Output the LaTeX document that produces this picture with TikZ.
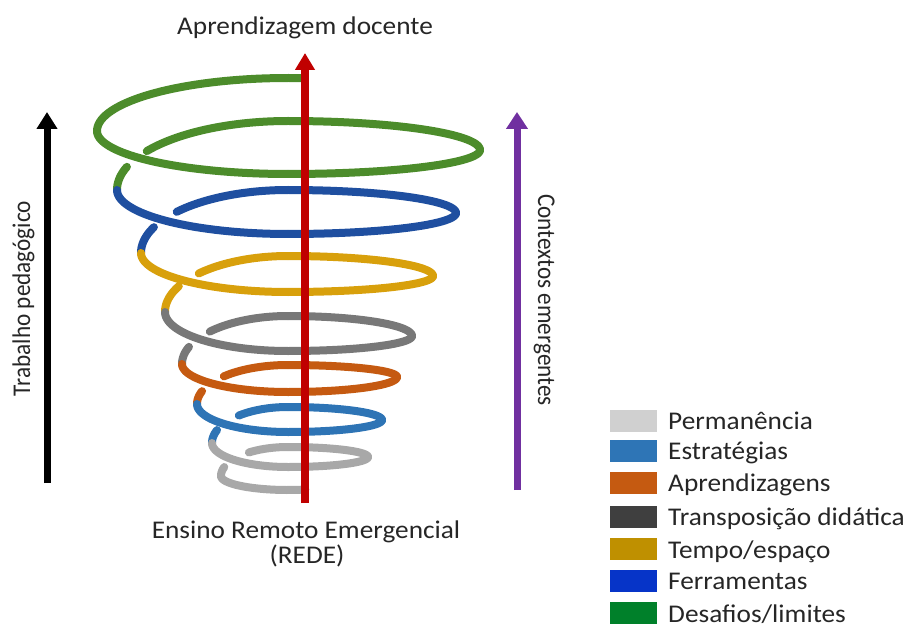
\documentclass[tikz,border=0pt]{standalone}
\usepackage{fontspec}
\setmainfont{Carlito}
\usetikzlibrary{arrows.meta}
\definecolor{c1}{HTML}{4C8C2B}
\definecolor{c2}{HTML}{1F4FA0}
\definecolor{c3}{HTML}{D8A00C}
\definecolor{c4}{HTML}{787878}
\definecolor{c5}{HTML}{C55A11}
\definecolor{c6}{HTML}{2E74B5}
\definecolor{c7}{HTML}{A8A8A8}
\definecolor{l1}{HTML}{D0D0D0}
\definecolor{l2}{HTML}{2E75B6}
\definecolor{l3}{HTML}{C55A11}
\definecolor{l4}{HTML}{3F3F3F}
\definecolor{l5}{HTML}{BF9000}
\definecolor{l6}{HTML}{0634C8}
\definecolor{l7}{HTML}{00802A}
\definecolor{cred}{HTML}{C00000}
\definecolor{cpur}{HTML}{7030A0}
% quarter arc between a horizontal-tangent point H and a vertical-tangent point V
\newcommand\qarc[7]{\draw[sp,#1] plot[domain=#6:#7] ({#2+(#4-#2)*sin(\x)},{#5+(#3-#5)*cos(\x)});}
% one turn: L -> B -> R -> T  (args: colour, xL,yL, yB, xR,yR, yT)
\newcommand\turnfront[7]{%
  \qarc{#1}{288}{#4}{#2}{#3}{0}{90}%
  \qarc{#1}{288}{#4}{#5}{#6}{0}{90}%
  \qarc{#1}{288}{#7}{#5}{#6}{0}{90}}
% back arc T -> next L with hidden gap (args: colour, yT, xL, yL, u1, u2)
\newcommand\turnback[6]{%
  \qarc{#1}{288}{#2}{#3}{#4}{0}{#5}%
  \qarc{#1}{288}{#2}{#3}{#4}{#6}{90}}
\begin{document}
\begin{tikzpicture}[x=1pt,y=-1pt,
  sp/.style={line width=8pt,line cap=round,samples=40},
  txt/.style={inner sep=0pt,font=\fontsize{25.5}{30}\selectfont,text=black!85},
  sq/.style={minimum width=47pt,minimum height=22pt,inner sep=0pt,draw=none},
  arr/.style={line width=7pt}]
\useasboundingbox (0,0) rectangle (912,628);
% ---- spiral ----
\qarc{c1}{288}{78}{97}{131}{-5}{90}
\turnfront{c1}{97}{131}{174}{480}{150}{121}
\turnback{c1}{121}{117}{190}{55.7}{70.4}
\turnfront{c2}{117}{190}{234}{456}{213}{190}
\turnback{c2}{190}{141}{253}{49.2}{65.8}
\turnfront{c3}{141}{253}{292}{433}{276}{256}
\turnback{c3}{256}{165}{312}{46.5}{62.6}
\turnfront{c4}{165}{312}{351}{412}{336}{316}
\turnback{c4}{316}{182}{364}{47.5}{69.1}
\turnfront{c5}{182}{364}{392}{397}{377}{365}
\turnback{c5}{365}{197}{404}{44.8}{70.8}
\turnfront{c6}{197}{404}{432}{382}{420}{407}
\turnback{c6}{407}{212}{443}{40.3}{69}
\turnfront{c7}{212}{443}{467}{368}{457}{447}
\turnback{c7}{447}{221}{476}{35.7}{72}
\qarc{c7}{288}{490}{221}{476}{-15}{90}
% ---- arrows ----
\coordinate (redbot) at (305,503);
\coordinate (redtop) at (305,53);
\coordinate (blkbot) at (47,483);
\coordinate (blktop) at (47,112);
\coordinate (purbot) at (517,490);
\coordinate (purtop) at (517,112);
\draw[line width=8pt,cred,-{Triangle[width=19pt,length=17pt]}] (redbot) -- (redtop);
\draw[arr,black,-{Triangle[width=20pt,length=17pt]}] (blkbot) -- (blktop);
\draw[arr,cpur,-{Triangle[width=21pt,length=17pt]}] (purbot) -- (purtop);
% ---- texts ----
\node[txt,anchor=base,xscale=1.07] (title) at (305,34.3) {Aprendizagem docente};
\node[txt,anchor=base,xscale=1.07] (ere) at (306,538.3) {Ensino Remoto Emergencial};
\node[txt,anchor=base,xscale=1.07] (rede) at (307,563.3) {(REDE)};
\node[txt,anchor=base,rotate=90,xscale=0.91] (trab) at (30,298.5) {Trabalho pedagógico};
\node[txt,anchor=base,rotate=-90,xscale=0.91] (cont) at (538,300) {Contextos emergentes};
% ---- legend ----
\node[sq,fill=l1] (s1) at (633.5,420.8) {};
\node[sq,fill=l2] (s2) at (633.5,450.8) {};
\node[sq,fill=l3] (s3) at (633.5,482.5) {};
\node[sq,fill=l4] (s4) at (633.5,516.7) {};
\node[sq,fill=l5] (s5) at (633.5,549.2) {};
\node[sq,fill=l6] (s6) at (633.5,580.8) {};
\node[sq,fill=l7] (s7) at (633.5,613.3) {};
\node[txt,anchor=base west,xscale=1.07] (t1) at (668,429.8) {Permanência};
\node[txt,anchor=base west,xscale=1.07] (t2) at (668,459.8) {Estratégias};
\node[txt,anchor=base west,xscale=1.07] (t3) at (668,491.5) {Aprendizagens};
\node[txt,anchor=base west,xscale=1.07] (t4) at (668,525.7) {Transposição didática};
\node[txt,anchor=base west,xscale=1.07] (t5) at (668,558.2) {Tempo/espaço};
\node[txt,anchor=base west,xscale=1.07] (t6) at (668,589.8) {Ferramentas};
\node[txt,anchor=base west,xscale=1.07] (t7) at (668,622.3) {Desafios/limites};
\end{tikzpicture}
\end{document}
